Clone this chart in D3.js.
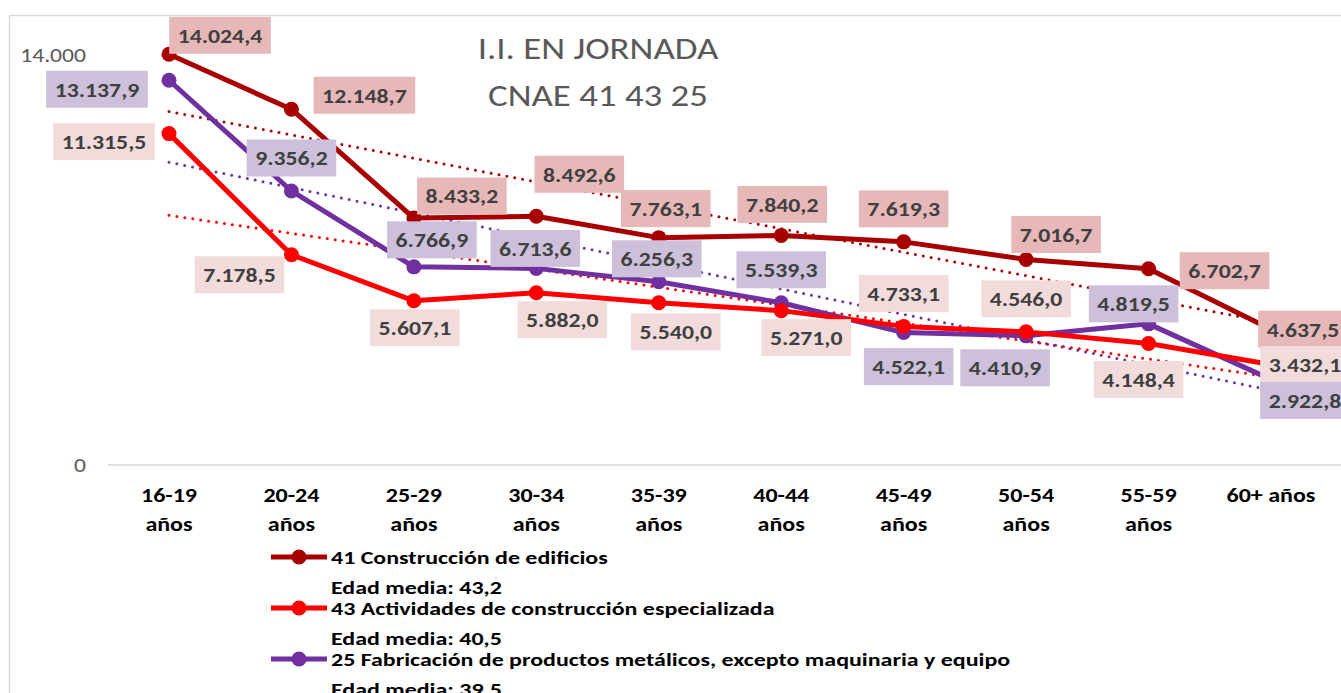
<!DOCTYPE html>
<html>
<head>
<meta charset="utf-8">
<script src="https://cdn.jsdelivr.net/npm/d3@7"></script>
<style>
  body { margin: 0; background: #fff; }
  svg { display: block; font-family: Carlito, Calibri, Lato, sans-serif; }
</style>
</head>
<body>
<svg id="chart" width="1341" height="693"></svg>
<script>
// categories (age groups) and series values
const ageGroups = ["16-19 años", "20-24 años", "25-29 años", "30-34 años", "35-39 años",
                   "40-44 años", "45-49 años", "50-54 años", "55-59 años", "60+ años"];
const values41 = [14024.4, 12148.7, 8433.2, 8492.6, 7763.1, 7840.2, 7619.3, 7016.7, 6702.7, 4637.5];
const values43 = [11315.5, 7178.5, 5607.1, 5882.0, 5540.0, 5271.0, 4733.1, 4546.0, 4148.4, 3432.1];
const values25 = [13137.9, 9356.2, 6766.9, 6713.6, 6256.3, 5539.3, 4522.1, 4410.9, 4819.5, 2922.8];
const seriesNames = ["41 Construcción de edificios", "43 Actividades de construcción especializada",
                     "25 Fabricación de productos metálicos, excepto maquinaria y equipo"];
const meanAges = ["Edad media: 43,2", "Edad media: 40,5", "Edad media: 39,5"];
const yTicks = [0, 14000];

// label placement (offset of label centre from its point), layout only
const labelOffsets = [
    [[51, -19], [73, -14], [48, -22], [43, -42], [7, -29], [1, -31], [0, -33], [30, -25], [76, 2], [32, 0]],
    [[-65, 8], [-52, 20], [1, 27], [26, 27], [17, 29], [25, 27], [0, -33], [0, -33], [-10, 36], [34, 0]],
    [[-72, 9], [0, -33], [18, -27], [-1, -20], [-2, -23], [0, -33], [5, 34], [-21, 32], [-15, -20], [34, 21]]
];

const series = [
    { name: seriesNames[0], mean: meanAges[0], values: values41, color: "#A80000", labelBg: "#E6B8B7" },
    { name: seriesNames[1], mean: meanAges[1], values: values43, color: "#FF0000", labelBg: "#F2DCDB" },
    { name: seriesNames[2], mean: meanAges[2], values: values25, color: "#7030A0", labelBg: "#CCC0DA" }
];

const svg = d3.select("#chart");

// the original text looks horizontally stretched, widen glyphs to match
function stretch(sel, k) {
    sel.each(function() {
        const w = this.getComputedTextLength();
        d3.select(this).attr("textLength", w * k).attr("lengthAdjust", "spacingAndGlyphs");
    });
}

// chart frame
svg.append("path")
    .attr("d", "M9.5,693 L9.5,15.5 L1341,15.5")
    .attr("fill", "none")
    .attr("stroke", "#d9d9d9")
    .attr("stroke-width", 1.5);

const x = d3.scalePoint().domain(ageGroups).range([169, 1271]);
const y = d3.scaleLinear().domain([0, 14000]).range([465, 55]);

// zero gridline
svg.append("line")
    .attr("x1", 108).attr("x2", 1341)
    .attr("y1", y(0)).attr("y2", y(0))
    .attr("stroke", "#d9d9d9").attr("stroke-width", 1.5);

// y axis labels
const yLab = svg.append("g").selectAll("text")
    .data(yTicks)
    .join("text")
    .attr("x", 86)
    .attr("y", d => y(d))
    .attr("dy", "0.35em")
    .attr("text-anchor", "end")
    .attr("fill", "#595959")
    .style("font-size", "20px")
    .text(d => d3.format(",")(d).replace(/,/g, "."));
stretch(yLab, 1.18);

// x axis labels (wrapped like the original)
const xLab = svg.append("g").selectAll("text")
    .data(ageGroups)
    .join("text")
    .attr("x", d => x(d))
    .attr("y", 495)
    .attr("text-anchor", "middle")
    .attr("fill", "#000")
    .style("font-size", "20px")
    .style("font-weight", "bold");
xLab.each(function(d) {
    const t = d3.select(this);
    if (d.startsWith("60+")) {
        t.append("tspan").attr("x", x(d)).attr("dy", "0.35em").text(d);
    } else {
        const parts = d.split(" ");
        t.append("tspan").attr("x", x(d)).attr("dy", "0.35em").text(parts[0]);
        t.append("tspan").attr("x", x(d)).attr("dy", 29).text(parts[1]);
    }
});
stretch(xLab.selectAll("tspan"), 1.2);

// title
const title = svg.append("text")
    .attr("text-anchor", "middle")
    .attr("fill", "#595959")
    .style("font-size", "31px");
title.append("tspan").attr("x", 598).attr("y", 59).text("I.I. EN JORNADA");
title.append("tspan").attr("x", 598).attr("y", 106).text("CNAE 41 43 25");
stretch(title.selectAll("tspan"), 1.19);

// linear trendlines (least squares over category index)
function trend(vals) {
    const n = vals.length;
    const mx = (n - 1) / 2;
    const my = d3.mean(vals);
    let sxy = 0, sxx = 0;
    vals.forEach((v, i) => { sxy += (i - mx) * (v - my); sxx += (i - mx) * (i - mx); });
    const slope = sxy / sxx;
    return [my - slope * mx, my + slope * (n - 1 - mx)];
}

const trendG = svg.append("g");
series.forEach(s => {
    const [a, b] = trend(s.values);
    trendG.append("line")
        .attr("x1", x(ageGroups[0])).attr("y1", y(a))
        .attr("x2", x(ageGroups[ageGroups.length - 1])).attr("y2", y(b))
        .attr("stroke", s.color)
        .attr("stroke-width", 3)
        .attr("stroke-linecap", "round")
        .attr("stroke-dasharray", "0 8");
});

// lines and markers
const line = d3.line()
    .x((d, i) => x(ageGroups[i]))
    .y(d => y(d));

series.slice().reverse().forEach(s => {
    const g = svg.append("g");
    g.append("path")
        .attr("d", line(s.values))
        .attr("fill", "none")
        .attr("stroke", s.color)
        .attr("stroke-width", 5)
        .attr("stroke-linejoin", "round");
    g.selectAll("circle")
        .data(s.values)
        .join("circle")
        .attr("cx", (d, i) => x(ageGroups[i]))
        .attr("cy", d => y(d))
        .attr("r", 7.5)
        .attr("fill", s.color);
});

// data labels with coloured boxes
const fmt = v => d3.format(",.1f")(v).replace(/,/g, "#").replace(".", ",").replace(/#/g, ".");
series.forEach((s, si) => {
    const g = svg.append("g");
    s.values.forEach((v, i) => {
        const cx = x(ageGroups[i]) + labelOffsets[si][i][0];
        const cy = y(v) + labelOffsets[si][i][1];
        const rect = g.append("rect").attr("fill", s.labelBg);
        const t = g.append("text")
            .attr("x", cx).attr("y", cy)
            .attr("dy", "0.35em")
            .attr("text-anchor", "middle")
            .attr("fill", "#404040")
            .style("font-size", "21px")
            .style("font-weight", "bold")
            .text(fmt(v));
        stretch(t, 1.13);
        const w = +t.attr("textLength") + 17;
        rect.attr("x", cx - w / 2).attr("y", cy - 18.5).attr("width", w).attr("height", 37);
    });
});

// legend
const legend = svg.append("g");
series.forEach((s, i) => {
    const ly = 557 + i * 51;
    legend.append("line")
        .attr("x1", 271).attr("x2", 327)
        .attr("y1", ly).attr("y2", ly)
        .attr("stroke", s.color).attr("stroke-width", 5);
    legend.append("circle")
        .attr("cx", 299).attr("cy", ly).attr("r", 7.5)
        .attr("fill", s.color);
    const t = legend.append("text")
        .attr("fill", "#000")
        .style("font-size", "19px")
        .style("font-weight", "bold");
    t.append("tspan").attr("x", 331).attr("y", ly).attr("dy", "0.35em").text(s.name);
    t.append("tspan").attr("x", 331).attr("y", ly + 30).attr("dy", "0.35em").text(s.mean);
    stretch(t.selectAll("tspan"), 1.26);
});
</script>
</body>
</html>
